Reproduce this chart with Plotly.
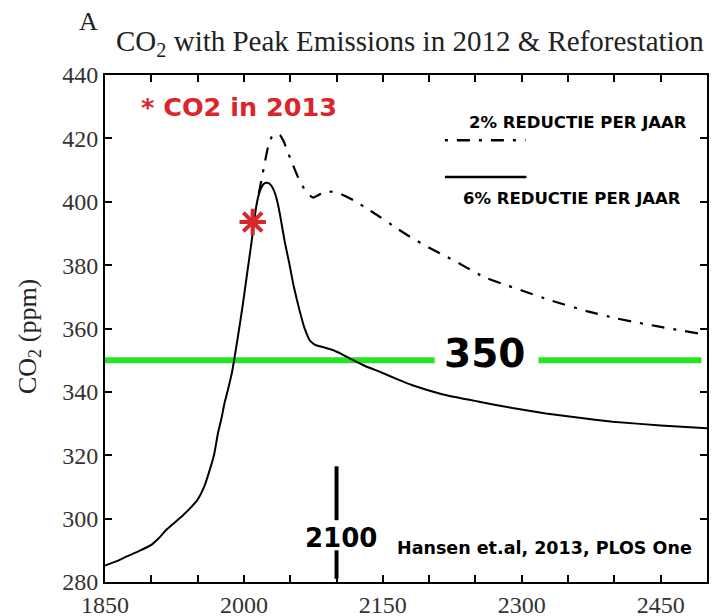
import plotly.graph_objects as go

# ---- data ----
solid_years = [1850, 1862, 1873, 1887, 1900, 1908, 1916, 1925, 1934, 1942, 1950, 1957, 1963, 1968,
               1972, 1976, 1979, 1983, 1987, 1993, 1999, 2004, 2008, 2011, 2013, 2016, 2019, 2022,
               2025, 2028, 2031, 2034, 2037, 2040, 2044, 2049, 2054, 2060, 2065, 2071, 2075, 2078,
               2087, 2096, 2107, 2118, 2132, 2147, 2164, 2182, 2215, 2254, 2290, 2326, 2360, 2398,
               2450, 2500]
solid_co2 = [285.2, 286.5, 288.0, 289.8, 291.7, 293.8, 296.4, 298.7, 301.0, 303.3, 306.0, 310.0,
             315.3, 320.5, 327.0, 332.0, 336.4, 341.0, 346.0, 356.5, 367.9, 378.5, 386.8, 393.5,
             398.0, 402.2, 404.6, 405.8, 406.0, 405.6, 404.4, 402.3, 398.8, 394.2, 387.5, 380.5,
             373.0, 365.8, 360.5, 356.3, 355.2, 354.7, 354.0, 353.2, 351.7, 350.0, 348.0, 346.3,
             344.2, 342.1, 339.2, 336.9, 334.9, 333.2, 331.9, 330.6, 329.4, 328.5]

dash_years = [2016, 2019, 2023, 2027, 2031, 2035, 2039, 2043, 2047, 2051, 2058, 2067, 2072, 2075,
              2079, 2085, 2092, 2098, 2108, 2118, 2132, 2147, 2163, 2179, 2200, 2220, 2240, 2258,
              2280, 2300, 2330, 2370, 2402, 2450, 2500]
dash_co2 = [402.5, 407.0, 413.0, 418.5, 421.0, 421.5, 421.0, 419.0, 416.0, 413.0, 408.0, 403.1,
            401.8, 401.3, 401.9, 402.8, 403.2, 403.1, 402.0, 400.5, 398.0, 395.2, 392.0, 389.0,
            385.5, 382.5, 379.3, 376.4, 374.0, 372.0, 369.0, 365.5, 363.2, 360.5, 358.0]

target_level = 350
green_seg1 = [1850, 2206]
green_seg2 = [2318, 2494]
label_350_pos = (2260, 352.2)

marker_year = 2100
marker_upper = [299.5, 316.5]
marker_lower = [281.0, 290.0]
label_2100_pos = (2105, 294.0)

co2_2013 = (2009.5, 393.6)
co2_2013_label_pos = (1995, 429.8)

legend_dash_x = [2217, 2304]
legend_dash_y = 419.4
legend_solid_x = [2217, 2305]
legend_solid_y = 407.8
legend_dash_label = ("2% REDUCTIE PER JAAR", 2361, 425.1)
legend_solid_label = ("6% REDUCTIE PER JAAR", 2354, 401.1)

source_label = ("Hansen et.al, 2013, PLOS One", 2324, 290.7)

x_tickvals = list(range(1850, 2501, 50))
x_labelled = [1850, 2000, 2150, 2300, 2450]
y_tickvals = list(range(280, 441, 20))

# ---- figure ----
fig = go.Figure()

GREEN = "#27e327"
RED = "#d8262b"

fig.add_trace(go.Scatter(x=green_seg1, y=[target_level] * 2, mode="lines",
                         line=dict(color=GREEN, width=6), hoverinfo="skip"))
fig.add_trace(go.Scatter(x=green_seg2, y=[target_level] * 2, mode="lines",
                         line=dict(color=GREEN, width=6), hoverinfo="skip"))

fig.add_trace(go.Scatter(x=dash_years, y=dash_co2, mode="lines",
                         line=dict(color="black", width=2.2, dash="13px,9px,3px,9px",
                                   shape="spline", smoothing=0.4)))
fig.add_trace(go.Scatter(x=solid_years, y=solid_co2, mode="lines",
                         line=dict(color="black", width=2, shape="spline", smoothing=0.4)))

# legend samples
fig.add_trace(go.Scatter(x=legend_dash_x, y=[legend_dash_y] * 2, mode="lines",
                         line=dict(color="black", width=2.5, dash="3px,9px,13px,9px")))
fig.add_trace(go.Scatter(x=legend_solid_x, y=[legend_solid_y] * 2, mode="lines",
                         line=dict(color="black", width=2.5)))

# 2100 marker
fig.add_trace(go.Scatter(x=[marker_year] * 2, y=marker_upper, mode="lines",
                         line=dict(color="black", width=4)))
fig.add_trace(go.Scatter(x=[marker_year] * 2, y=marker_lower, mode="lines",
                         line=dict(color="black", width=4)))

# red asterisk
fig.add_trace(go.Scatter(x=[co2_2013[0]], y=[co2_2013[1]], mode="markers",
                         marker=dict(symbol="asterisk-open", size=22, color=RED,
                                     line=dict(color=RED, width=4))))

SANS = "DejaVu Sans"
SERIF = "Liberation Serif"


def bold(size, color="black"):
    return dict(family=SANS, size=size, color=color, weight="bold")


ann = []
ann.append(dict(x=label_350_pos[0], y=label_350_pos[1], text="350", font=bold(39)))
ann.append(dict(x=label_2100_pos[0], y=label_2100_pos[1], text="2100", font=bold(26)))
ann.append(dict(x=source_label[1], y=source_label[2], text=source_label[0], font=bold(17.5)))
ann.append(dict(x=legend_dash_label[1], y=legend_dash_label[2], text=legend_dash_label[0],
                font=bold(16.5)))
ann.append(dict(x=legend_solid_label[1], y=legend_solid_label[2], text=legend_solid_label[0],
                font=bold(16.5)))
ann.append(dict(x=co2_2013_label_pos[0], y=co2_2013_label_pos[1], text="* CO2 in 2013",
                font=bold(25.5, RED)))

# page is drawn with an 8px body margin: the plot area should land at
# screen x 105..707, y 75..582
PAGE_OFF = 8
L, R, T, B = 105 - PAGE_OFF, 720 - 707 + PAGE_OFF, 75 - PAGE_OFF, 616 - 582 + PAGE_OFF


def px_x(px):
    return (px - 105) / 602


def px_y(py):
    return (582 - py) / 507


# title, panel letter, y-axis title (paper coords)
ann.append(dict(xref="paper", yref="paper", x=px_x(410), y=px_y(43),
                text="CO<sub>2</sub> with Peak Emissions in 2012 &amp; Reforestation",
                font=dict(family=SERIF, size=29, color="#222")))
ann.append(dict(xref="paper", yref="paper", x=px_x(88), y=px_y(22),
                text="A", font=dict(family=SERIF, size=26, color="#222")))
ann.append(dict(xref="paper", yref="paper", x=px_x(29), y=px_y(337),
                text="CO<sub>2</sub> (ppm)", textangle=-90,
                font=dict(family=SERIF, size=26, color="#222")))

for a in ann:
    a.setdefault("showarrow", False)
    a.setdefault("xanchor", "center")
    a.setdefault("yanchor", "middle")

fig.update_layout(
    width=720, height=616,
    margin=dict(l=L, r=R, t=T, b=B),
    paper_bgcolor="white", plot_bgcolor="white",
    showlegend=False,
    annotations=ann,
)

fig.update_xaxes(range=[1850, 2500], tickvals=x_tickvals, automargin=False,
                 ticktext=[str(v) if v in x_labelled else "" for v in x_tickvals],
                 ticks="inside", ticklen=7, tickwidth=1.5, tickcolor="black",
                 showline=True, linewidth=2, linecolor="black", mirror="ticks",
                 showgrid=False, zeroline=False,
                 tickfont=dict(family=SERIF, size=24, color="#333"))
fig.update_yaxes(range=[280, 440], tickvals=y_tickvals, automargin=False,
                 ticks="inside", ticklen=7, tickwidth=1.5, tickcolor="black",
                 showline=True, linewidth=2, linecolor="black", mirror="ticks",
                 showgrid=False, zeroline=False,
                 tickfont=dict(family=SERIF, size=24, color="#333"))

fig.write_html("out.html")
